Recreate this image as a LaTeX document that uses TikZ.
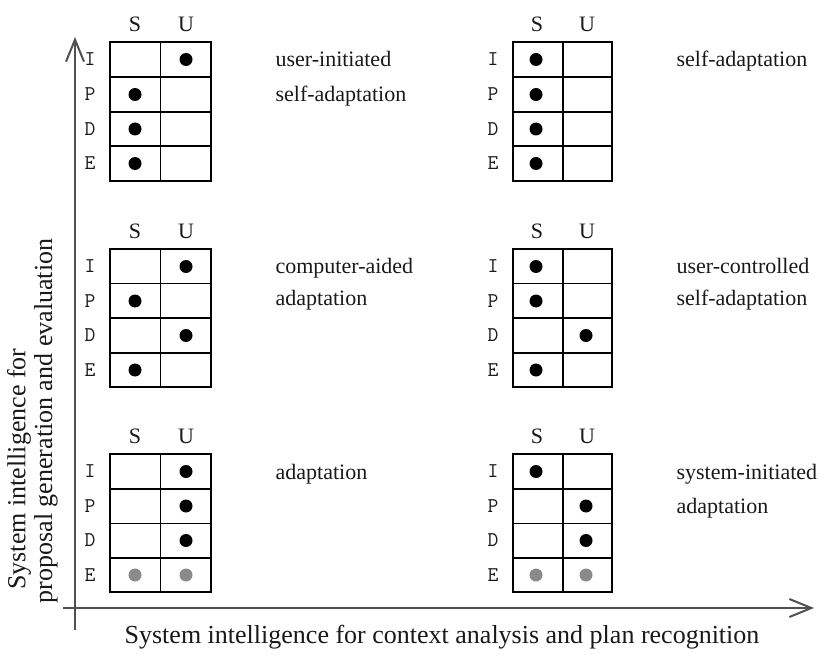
\documentclass[tikz,border=0pt]{standalone}
\usepackage{fontspec}
\setmainfont{Liberation Serif}
\usepackage{tikz}
\usetikzlibrary{arrows.meta}
\definecolor{axisgrey}{HTML}{505050}
\definecolor{dotgrey}{HTML}{8A8A8A}
\tikzstyle{every node}=[inner sep=0pt, text=black!90, font=\fontsize{22}{27}\selectfont]
\tikzstyle{head}=[anchor=center]
\tikzstyle{rowlabel}=[anchor=center, font=\ttfamily\fontsize{21}{25}\selectfont]
\tikzstyle{caption}=[anchor=base west]
\tikzstyle{axislabel}=[font=\fontsize{26}{28}\selectfont]
\tikzstyle{dot}=[fill=black]
\tikzstyle{greydot}=[fill=dotgrey]
\tikzstyle{axis}=[draw=axisgrey, line width=2pt, -{Straight Barb[length=22pt, width=18pt, line width=2pt]}]

\begin{document}
\begin{tikzpicture}[x=1pt, y=-1pt, line width=1.2pt]
\useasboundingbox (0,0) rectangle (819,655);
% Axes
    \coordinate (ybot) at (75,630);
    \coordinate (ytop) at (75,37);
    \coordinate (xleft) at (63,608);
    \coordinate (xright) at (814,608);
    \draw[axis] (ybot) -- (ytop);
    \draw[axis] (xleft) -- (xright);
    \node[axislabel] (xlabel) at (442,637) {System intelligence for context analysis and plan recognition};
    \node[axislabel, rotate=90] (ylabel1) at (19,469) {System intelligence for};
    \node[axislabel, rotate=90] (ylabel2) at (46,421) {proposal generation and evaluation};

% Top left panel
\begin{scope}[shift={(110,42)}]
    \draw (0,0) rectangle (101,139);
    \draw (50.5,0) -- (50.5,139);
    \draw (0,35) -- (101,35);
    \draw (0,70) -- (101,70);
    \draw (0,104) -- (101,104);
    \node[head] (tl-S) at (25,-17.5) {S};
    \node[head] (tl-U) at (76,-17.5) {U};
    \node[rowlabel] (tl-I) at (-20,17.5) {I};
    \node[rowlabel] (tl-P) at (-20,52.5) {P};
    \node[rowlabel] (tl-D) at (-20,87) {D};
    \node[rowlabel] (tl-E) at (-20,121.5) {E};
    \fill[dot] (76,17.5) circle (6.5);
    \fill[dot] (25,52.5) circle (6.5);
    \fill[dot] (25,87) circle (6.5);
    \fill[dot] (25,121.5) circle (6.5);
    \node[caption] (tl-text1) at (165,25) {user-initiated};
    \node[caption] (tl-text2) at (165,59.5) {self-adaptation};
\end{scope}

% Top right panel
\begin{scope}[shift={(513,42)}]
    \draw (0,0) rectangle (99,139);
    \draw (50,0) -- (50,139);
    \draw (0,35) -- (99,35);
    \draw (0,70) -- (99,70);
    \draw (0,104) -- (99,104);
    \node[head] (tr-S) at (24,-17.5) {S};
    \node[head] (tr-U) at (74,-17.5) {U};
    \node[rowlabel] (tr-I) at (-20,17.5) {I};
    \node[rowlabel] (tr-P) at (-20,52.5) {P};
    \node[rowlabel] (tr-D) at (-20,87) {D};
    \node[rowlabel] (tr-E) at (-20,121.5) {E};
    \fill[dot] (23,17.5) circle (6.5);
    \fill[dot] (23,52.5) circle (6.5);
    \fill[dot] (23,87) circle (6.5);
    \fill[dot] (23,121.5) circle (6.5);
    \node[caption] (tr-text1) at (163,25) {self-adaptation};
\end{scope}

% Middle left panel
\begin{scope}[shift={(110,249)}]
    \draw (0,0) rectangle (101,138);
    \draw (50.5,0) -- (50.5,138);
    \draw (0,34.5) -- (101,34.5);
    \draw (0,69) -- (101,69);
    \draw (0,104) -- (101,104);
    \node[head] (ml-S) at (25,-17.5) {S};
    \node[head] (ml-U) at (76,-17.5) {U};
    \node[rowlabel] (ml-I) at (-20,17.5) {I};
    \node[rowlabel] (ml-P) at (-20,52) {P};
    \node[rowlabel] (ml-D) at (-20,86.5) {D};
    \node[rowlabel] (ml-E) at (-20,121) {E};
    \fill[dot] (76,17.5) circle (6.5);
    \fill[dot] (25,52) circle (6.5);
    \fill[dot] (76,86.5) circle (6.5);
    \fill[dot] (25,121) circle (6.5);
    \node[caption] (ml-text1) at (165,24) {computer-aided};
    \node[caption] (ml-text2) at (165,56) {adaptation};
\end{scope}

% Middle right panel
\begin{scope}[shift={(513,249)}]
    \draw (0,0) rectangle (99,138);
    \draw (50,0) -- (50,138);
    \draw (0,34.5) -- (99,34.5);
    \draw (0,69) -- (99,69);
    \draw (0,104) -- (99,104);
    \node[head] (mr-S) at (24,-17.5) {S};
    \node[head] (mr-U) at (74,-17.5) {U};
    \node[rowlabel] (mr-I) at (-20,17.5) {I};
    \node[rowlabel] (mr-P) at (-20,52) {P};
    \node[rowlabel] (mr-D) at (-20,86.5) {D};
    \node[rowlabel] (mr-E) at (-20,121) {E};
    \fill[dot] (23,17.5) circle (6.5);
    \fill[dot] (23,52) circle (6.5);
    \fill[dot] (73,86.5) circle (6.5);
    \fill[dot] (23,121) circle (6.5);
    \node[caption] (mr-text1) at (163,24) {user-controlled};
    \node[caption] (mr-text2) at (163,56) {self-adaptation};
\end{scope}

% Bottom left panel
\begin{scope}[shift={(110,454)}]
    \draw (0,0) rectangle (101,138);
    \draw (50.5,0) -- (50.5,138);
    \draw (0,35) -- (101,35);
    \draw (0,69.5) -- (101,69.5);
    \draw (0,104) -- (101,104);
    \node[head] (bl-S) at (25,-17.5) {S};
    \node[head] (bl-U) at (76,-17.5) {U};
    \node[rowlabel] (bl-I) at (-20,17.5) {I};
    \node[rowlabel] (bl-P) at (-20,52) {P};
    \node[rowlabel] (bl-D) at (-20,86.5) {D};
    \node[rowlabel] (bl-E) at (-20,121) {E};
    \fill[dot] (76,17.5) circle (6.5);
    \fill[dot] (76,52) circle (6.5);
    \fill[dot] (76,86.5) circle (6.5);
    \fill[greydot] (25,121) circle (6.5);
    \fill[greydot] (76,121) circle (6.5);
    \node[caption] (bl-text1) at (165,25) {adaptation};
\end{scope}

% Bottom right panel
\begin{scope}[shift={(513,454)}]
    \draw (0,0) rectangle (99,138);
    \draw (50,0) -- (50,138);
    \draw (0,35) -- (99,35);
    \draw (0,69.5) -- (99,69.5);
    \draw (0,104) -- (99,104);
    \node[head] (br-S) at (24,-17.5) {S};
    \node[head] (br-U) at (74,-17.5) {U};
    \node[rowlabel] (br-I) at (-20,17.5) {I};
    \node[rowlabel] (br-P) at (-20,52) {P};
    \node[rowlabel] (br-D) at (-20,86.5) {D};
    \node[rowlabel] (br-E) at (-20,121) {E};
    \fill[dot] (23,17.5) circle (6.5);
    \fill[dot] (73,52) circle (6.5);
    \fill[dot] (73,86.5) circle (6.5);
    \fill[greydot] (23,121) circle (6.5);
    \fill[greydot] (73,121) circle (6.5);
    \node[caption] (br-text1) at (163,25) {system-initiated};
    \node[caption] (br-text2) at (163,59.5) {adaptation};
\end{scope}

\end{tikzpicture}
\end{document}
